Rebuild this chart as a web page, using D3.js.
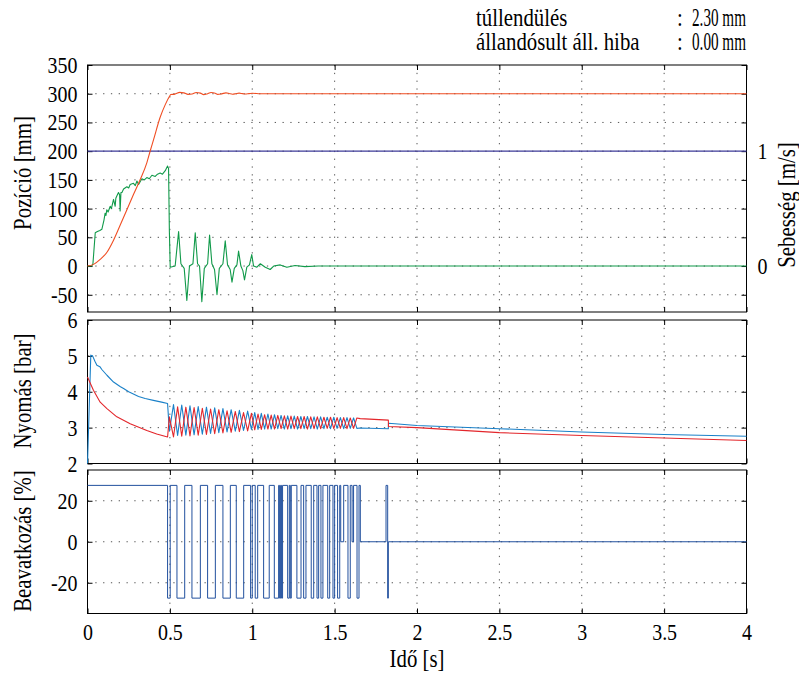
<!DOCTYPE html>
<html>
<head>
<meta charset="utf-8">
<script src="https://cdn.jsdelivr.net/npm/d3@7"></script>
<style>
  body { margin: 0; background: #fff; }
</style>
</head>
<body>
<svg id="chart" width="799" height="673"></svg>
<script>
'use strict';

const FONT = 'Liberation Serif';
const SX = 0.85; // the reference type is a little condensed

// ---- tick labels / axis values ----
const timeTicks = [0, 0.5, 1, 1.5, 2, 2.5, 3, 3.5, 4];
const posTicks = [-50, 0, 50, 100, 150, 200, 250, 300, 350];
const speedTicks = [0, 1];
const pressTicks = [2, 3, 4, 5, 6];
const ctrlTicks = [-20, 0, 20];

const infoLabels = ['túllendülés', 'állandósult áll. hiba'];
const infoValues = ['2.30 mm', '0.00 mm'];

// ---- position [mm] ----
const posTime = [0, 0.037, 0.077, 0.118, 0.158, 0.198, 0.239, 0.279, 0.32, 0.36, 0.38, 0.401, 0.441, 0.472, 0.498,
  0.505, 0.53, 0.56, 0.585, 0.61, 0.635, 0.66, 0.685, 0.705, 0.725, 0.75, 0.775, 0.79, 0.815, 0.84, 0.86, 0.88,
  0.9, 0.92, 0.94, 0.955, 0.98, 1.0, 1.05, 4];
const posMm = [0, 2.9, 11.6, 24, 45, 71, 98, 124.5, 150.6, 179.6, 199.8, 220, 259, 281, 295.5,
  298.5, 299.3, 302.3, 301.5, 298.8, 299.5, 302.2, 301, 298.5, 299.5, 302, 300.8, 298.8, 299.8, 301.5, 300.5, 299.2,
  300, 301, 300.2, 299.5, 300.1, 300.7, 300, 300];

// ---- speed reference line [m/s] ----
const refTime = [0, 4];
const refSpeed = [1, 1];

// ---- measured speed [m/s] ----
const speedTime = [0, 0.026, 0.033, 0.047, 0.06, 0.075, 0.087, 0.1, 0.107, 0.112, 0.117, 0.125, 0.138, 0.145, 0.158,
  0.168, 0.172, 0.178, 0.188, 0.195, 0.198, 0.203, 0.209, 0.219, 0.239, 0.25, 0.259, 0.279, 0.29, 0.3, 0.31, 0.33,
  0.345, 0.36, 0.375, 0.391, 0.411, 0.425, 0.441, 0.455, 0.472, 0.486, 0.492, 0.497, 0.502,
  0.532, 0.553, 0.567, 0.587, 0.603, 0.619, 0.64, 0.654, 0.668, 0.68, 0.694, 0.709, 0.729, 0.741, 0.755, 0.771,
  0.786, 0.8, 0.822, 0.836, 0.85, 0.866, 0.877, 0.891, 0.907, 0.917, 0.931, 0.943, 0.953, 0.967, 0.983, 0.997,
  1.008, 1.028, 1.049, 1.079, 1.109, 1.13, 1.17, 1.21, 1.26, 1.32, 1.4, 4];
const speedMs = [0, 0, 0.02, 0.29, 0.3, 0.31, 0.32, 0.4, 0.46, 0.44, 0.49, 0.47, 0.52, 0.5, 0.58,
  0.52, 0.59, 0.61, 0.64, 0.62, 0.48, 0.64, 0.64, 0.67, 0.69, 0.68, 0.71, 0.72, 0.7, 0.74, 0.71, 0.76,
  0.75, 0.77, 0.76, 0.79, 0.78, 0.8, 0.81, 0.8, 0.83, 0.87, 0.85, 0.3, -0.01,
  0.0, 0.3, 0.02, -0.02, -0.3, 0.0, 0.02, 0.29, 0.02, 0.0, -0.31, -0.02, 0.02, 0.27, 0.02, -0.03,
  -0.25, -0.02, 0.02, 0.22, 0.01, -0.03, -0.14, -0.02, 0.01, 0.13, 0.0, -0.04, -0.12, -0.01, 0.01, 0.1,
  0.0, -0.01, 0.02, -0.01, -0.03, 0.0, 0.01, -0.01, 0.005, -0.005, 0.0, 0.0];

// ---- chamber pressures [bar] ----
const pBlueHeadTime = [0, 0.02, 0.031, 0.045, 0.057, 0.075, 0.087, 0.118, 0.158, 0.2, 0.219, 0.25, 0.31, 0.35, 0.4, 0.45, 0.486];
const pBlueHead = [2.0, 5.02, 5.0, 4.85, 4.74, 4.7, 4.62, 4.46, 4.27, 4.14, 4.09, 4.0, 3.87, 3.81, 3.76, 3.71, 3.67];
const pRedHeadTime = [0, 0.036, 0.077, 0.118, 0.178, 0.259, 0.36, 0.42, 0.486];
const pRedHead = [4.41, 4.04, 3.71, 3.53, 3.3, 3.11, 2.92, 2.82, 2.74];

const oscTime = [0.497, 0.522, 0.547, 0.572, 0.597, 0.622, 0.647, 0.672, 0.697, 0.722, 0.747, 0.772, 0.797,
  0.822, 0.847, 0.872, 0.897, 0.922, 0.947, 0.972, 0.995,
  1.015, 1.035, 1.055, 1.075, 1.095, 1.115, 1.135, 1.155, 1.175, 1.195, 1.215, 1.235, 1.255, 1.275, 1.295,
  1.315, 1.335, 1.355, 1.375, 1.395, 1.415, 1.435, 1.455, 1.475, 1.495, 1.515, 1.535, 1.555, 1.575, 1.595,
  1.615, 1.635];
const oscBlue = [2.9, 3.64, 2.78, 3.63, 2.79, 3.61, 2.8, 3.59, 2.82, 3.57, 2.84, 3.55, 2.86,
  3.53, 2.88, 3.5, 2.9, 3.48, 2.92, 3.46, 2.95,
  3.42, 2.95, 3.4, 2.96, 3.38, 2.96, 3.36, 2.97, 3.34, 2.96, 3.33, 2.97, 3.32, 2.96, 3.31,
  2.97, 3.31, 2.97, 3.3, 2.96, 3.3, 2.97, 3.29, 2.97, 3.29, 2.98, 3.28, 2.97, 3.28, 2.98,
  3.27, 2.98];
const oscRed = [3.3, 2.74, 3.58, 2.76, 3.57, 2.77, 3.56, 2.79, 3.54, 2.81, 3.52, 2.83, 3.5,
  2.85, 3.47, 2.87, 3.45, 2.89, 3.42, 2.91, 3.4,
  2.94, 3.38, 2.95, 3.36, 2.96, 3.35, 2.96, 3.34, 2.97, 3.33, 2.96, 3.32, 2.97, 3.31, 2.97,
  3.31, 2.96, 3.3, 2.97, 3.3, 2.97, 3.29, 2.98, 3.29, 2.97, 3.28, 2.98, 3.28, 2.97, 3.27,
  2.98, 3.27];

const pBlueTailTime = [1.655, 1.826, 1.827, 2.0, 2.5, 3.0, 3.5, 4.0];
const pBlueTail = [2.99, 2.97, 3.12, 3.06, 2.97, 2.88, 2.81, 2.76];
const pRedTailTime = [1.655, 1.826, 1.827, 2.0, 2.5, 3.0, 3.5, 4.0];
const pRedTail = [3.25, 3.21, 3.03, 3.0, 2.86, 2.78, 2.71, 2.64];

// ---- control signal [%] (value holds from its time to the next) ----
const ctrlTime = [0, 0.486, 0.502, 0.543, 0.59, 0.634, 0.685, 0.729, 0.776, 0.822, 0.867, 0.903, 0.948, 0.99, 1.0,
  1.018, 1.033, 1.069, 1.103, 1.134, 1.16, 1.166, 1.172, 1.178, 1.184, 1.215, 1.225, 1.231, 1.237, 1.271, 1.296,
  1.312, 1.326, 1.358, 1.373, 1.393, 1.403, 1.417, 1.429, 1.458, 1.47, 1.49, 1.5, 1.518, 1.531, 1.537, 1.555,
  1.581, 1.595, 1.606, 1.615, 1.636, 1.648, 1.656, 1.812, 1.822, 1.826, 4];
const ctrlPct = [27.5, -27.5, 27.5, -27.5, 27.5, -27.5, 27.5, -27.5, 27.5, -27.5, 27.5, -27.5, 27.5, -27.5, 27.5,
  -27.5, 27.5, -27.5, 27.5, -27.5, 27.5, -27.5, 27.5, -27.5, 27.5, -27.5, 27.5, -27.5, 27.5, -27.5, 27.5,
  -27.5, 27.5, -27.5, 27.5, -27.5, 27.5, -27.5, 27.5, -27.5, 27.5, -27.5, 27.5, -27.5, 27.5, 0, 27.5,
  -27.5, 27.5, 0, 27.5, -27.5, 27.5, 0, 27.5, -27.5, 0, 0];

// ---- layout ----
const W = 799, H = 673;
const left = 87.5, right = 746.5;
const svg = d3.select('#chart').attr('width', W).attr('height', H);

const x = d3.scaleLinear().domain([0, 4]).range([left, right]);
const yPos = d3.scaleLinear().domain([-80, 350]).range([312, 65]);
const ySpeed = d3.scaleLinear().domain([-0.4, 1.75]).range([312, 65]);
const yPress = d3.scaleLinear().domain([2, 6]).range([463.5, 320]);
const yCtrl = d3.scaleLinear().domain([-35, 35]).range([613.5, 470]);

const zip = (a, b) => a.map((d, i) => [d, b[i]]);

function styleText(sel, size) {
  sel.attr('font-family', FONT).style('font-family', FONT)
    .style('font-size', size + 'px').attr('fill', '#000');
}

// axis tick labels: condense horizontally around their anchor
function condenseTicks(sel) {
  styleText(sel, 23.5);
  sel.each(function () {
    const t = d3.select(this);
    const x0 = +t.attr('x') || 0;
    t.attr('x', x0 / SX).attr('transform', `scale(${SX},1)`);
  });
}

function panel(y, yTicks, showX) {
  const [y0, y1] = y.range();
  const g = svg.append('g');
  // dotted grid
  g.append('g').selectAll('line').data(timeTicks.slice(1, -1)).join('line')
    .attr('x1', d => x(d)).attr('x2', d => x(d)).attr('y1', y1).attr('y2', y0)
    .attr('stroke', '#555').attr('stroke-dasharray', '1.3,6.5');
  g.append('g').selectAll('line').data(yTicks.filter(d => y(d) > y1 + 1 && y(d) < y0 - 1)).join('line')
    .attr('x1', left).attr('x2', right).attr('y1', d => y(d)).attr('y2', d => y(d))
    .attr('stroke', '#555').attr('stroke-dasharray', '1.3,6.5');
  // ticks, all pointing inward
  const la = g.append('g').attr('transform', `translate(${left},0)`)
    .call(d3.axisLeft(y).tickValues(yTicks).tickSize(-5).tickPadding(10).tickFormat(d => String(d)));
  g.append('g').attr('transform', `translate(${right},0)`)
    .call(d3.axisRight(y).tickValues(yTicks).tickSize(-5).tickFormat(''));
  const ba = g.append('g').attr('transform', `translate(0,${y0})`)
    .call(d3.axisBottom(x).tickValues(timeTicks).tickSize(-5).tickPadding(10)
      .tickFormat(showX ? (d => String(d)) : ''));
  g.append('g').attr('transform', `translate(0,${y1})`)
    .call(d3.axisTop(x).tickValues(timeTicks).tickSize(-5).tickFormat(''));
  g.selectAll('.domain').remove();
  g.selectAll('.tick line').attr('stroke', '#000');
  condenseTicks(la.selectAll('text'));
  condenseTicks(ba.selectAll('text'));
  g.append('rect').attr('x', left).attr('y', y1).attr('width', right - left).attr('height', y0 - y1)
    .attr('fill', 'none').attr('stroke', '#000').attr('stroke-width', 1);
  return g;
}

function curve(y, data, color, width, shape) {
  const line = d3.line().x(d => x(d[0])).y(d => y(d[1]));
  if (shape) line.curve(shape);
  svg.append('path').datum(data).attr('d', line)
    .attr('fill', 'none').attr('stroke', color).attr('stroke-width', width)
    .attr('stroke-linejoin', 'round');
}

// top panel
panel(yPos, posTicks, false);
curve(ySpeed, zip(refTime, refSpeed), '#3d3a98', 1.1);
curve(ySpeed, zip(speedTime, speedMs), '#119a4a', 1.1);
curve(yPos, zip(posTime, posMm), '#f04e23', 1.1, d3.curveMonotoneX);

const ra = svg.append('g').attr('transform', `translate(${right},0)`)
  .call(d3.axisRight(ySpeed).tickValues(speedTicks).tickSize(0).tickPadding(11).tickFormat(d => String(d)))
  .call(g => g.select('.domain').remove());
condenseTicks(ra.selectAll('text'));

// middle panel
panel(yPress, pressTicks, false);
const blue = zip(pBlueHeadTime, pBlueHead).concat(zip(oscTime, oscBlue), zip(pBlueTailTime, pBlueTail));
const red = zip(pRedHeadTime, pRedHead).concat(zip(oscTime, oscRed), zip(pRedTailTime, pRedTail));
curve(yPress, blue, '#1a80c8', 1.1);
curve(yPress, red, '#e3262b', 1.1);

// bottom panel
panel(yCtrl, ctrlTicks, true);
curve(yCtrl, zip(ctrlTime, ctrlPct), '#22509e', 1, d3.curveStepAfter);

// text placed at (tx, ty), rotated, condensed along its own direction
const label = (txt, tx, ty, rot, anchor, size, sx) => styleText(svg.append('text')
  .attr('transform', `translate(${tx},${ty}) rotate(${rot}) scale(${sx || SX},1)`)
  .attr('text-anchor', anchor).text(txt), size);

label('Pozíció [mm]', 31, 173, -90, 'middle', 24.5);
label('Nyomás [bar]', 31, 391, -90, 'middle', 24.5);
label('Beavatkozás [%]', 31, 541, -90, 'middle', 24.5);
label('Sebesség [m/s]', 795, 205, -90, 'middle', 24.5);
label('Idő [s]', 417, 667, 0, 'middle', 24.5);

// summary text, top right
infoLabels.forEach((t, i) => {
  const by = 26 + i * 24;
  label(t, 476, by, 0, 'start', 24.5);
  label(':', 677, by, 0, 'start', 24.5);
  label(infoValues[i], 746, by, 0, 'end', 24.5, 0.62);
});
</script>
</body>
</html>
